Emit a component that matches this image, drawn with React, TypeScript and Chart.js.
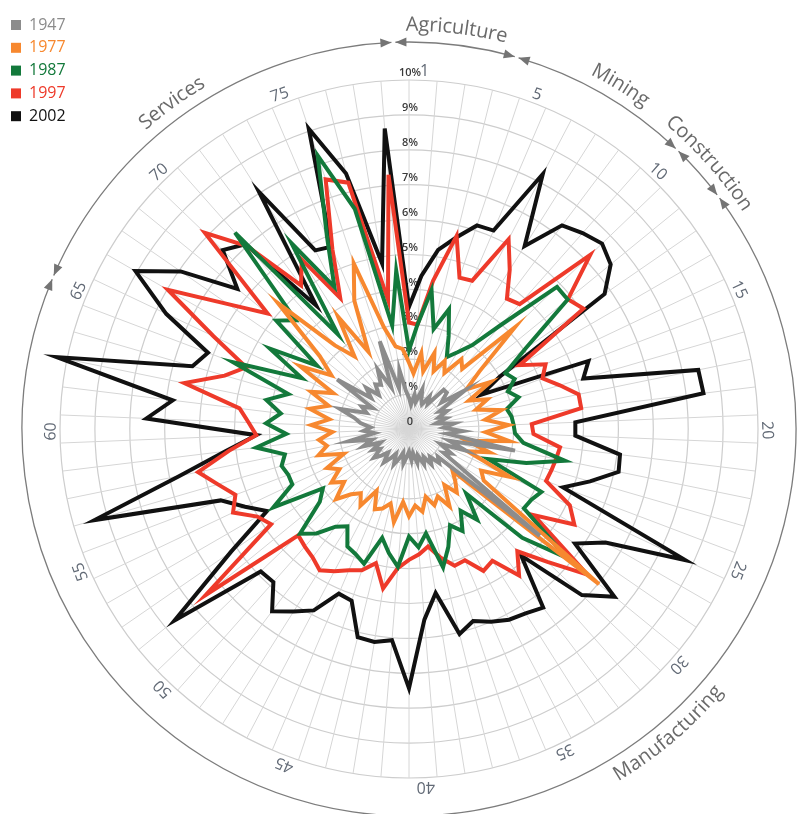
import React, { useEffect, useRef } from 'react';
import { Chart, registerables } from 'chart.js';

Chart.register(...registerables);

// ---------- data ----------
const categories = [
  '1','2','3','4','5','6','7','8','9','10','11','12','13','14','15','16','17','18','19','20',
  '21','22','23','24','25','26','27','28','29','30','31','32','33','34','35','36','37','38','39','40',
  '41','42','43','44','45','46','47','48','49','50','51','52','53','54','55','56','57','58','59','60',
  '61','62','63','64','65','66','67','68','69','70','71','72','73','74','75','76','77','78',
];
const shownCategoryLabels = ['1','5','10','15','20','25','30','35','40','45','50','55','60','65','70','75'];
const tickLabels = ['0','1%','2%','3%','4%','5%','6%','7%','8%','9%','10%'];

const seriesNames = ['1947', '1977', '1987', '1997', '2002'];
const seriesColors = ['#8c8c8c', '#f7882f', '#13793b', '#ee3a2a', '#111111'];

const v1947 = [
  0.9,0.7,1.0,0.8,1.2,0.9,0.8,1.1,0.9,1.5,1.5,1.2,1.96,1.0,1.2,0.9,1.1,0.8,1.3,1.0,
  1.54,1.1,3.1,1.2,1.74,1.0,1.4,1.2,4.84,1.15,1.3,1.0,1.2,0.9,1.1,0.8,1.0,0.7,0.9,0.65,
  0.8,1.0,0.7,0.9,1.1,0.8,1.0,1.2,0.9,1.1,1.3,1.0,1.2,0.9,1.4,1.1,1.75,1.0,1.3,1.1,
  1.4,1.6,2.06,1.3,1.5,1.2,2.5,1.4,1.7,1.3,1.6,1.5,1.93,1.3,2.65,1.2,1.72,1.1,
];
const v1977 = [
  1.9,1.6,2.2,1.7,2.3,1.8,2.2,1.9,2.5,2.3,4.2,2.6,2.0,2.7,1.9,2.4,2.0,2.7,2.2,2.85,
  2.2,2.9,1.7,2.4,1.8,3.2,2.39,2.6,7.03,1.73,2.0,2.28,1.9,2.5,2.1,2.3,2.0,2.4,2.2,2.5,
  2.1,2.7,2.2,2.4,2.5,2.0,2.6,2.3,2.5,2.9,2.4,2.7,2.3,2.6,2.0,2.7,2.4,2.6,2.2,2.8,
  2.3,2.9,2.4,3.0,2.4,3.6,2.7,3.3,5.2,3.2,2.6,3.8,2.5,4.0,5.0,3.0,2.4,2.3,
];
const v1987 = [
  2.26,3.0,4.03,2.95,3.62,2.9,2.33,2.6,3.0,4.0,5.88,5.87,4.05,3.19,3.35,3.03,3.27,2.86,2.96,3.0,
  3.04,3.3,4.56,3.5,2.43,4.2,4.05,4.0,5.84,4.5,2.48,3.25,2.77,3.3,3.0,3.56,4.08,3.03,3.4,3.08,
  3.96,3.6,3.21,4.07,3.9,3.8,3.3,3.5,4.0,4.33,3.3,3.0,4.49,3.7,3.7,3.8,3.63,4.41,3.52,4.1,
  3.7,4.17,3.6,5.39,3.4,4.6,3.2,4.91,4.5,7.52,3.39,6.3,4.6,6.0,8.26,6.5,3.0,4.55,
];
const v1997 = [
  3.05,3.0,4.3,5.7,4.57,4.62,6.14,5.4,4.67,4.78,7.2,5.88,6.07,3.66,4.33,4.09,4.5,4.96,4.97,3.52,
  3.57,4.36,4.3,4.25,4.2,5.1,5.47,4.34,6.6,5.5,4.68,5.25,4.47,4.59,4.09,4.13,3.8,3.41,3.6,3.75,
  4.0,4.63,3.96,4.27,4.4,4.6,4.79,4.6,4.5,4.4,7.52,4.8,5.02,5.58,5.32,5.7,6.17,5.2,4.38,4.6,
  4.89,6.57,5.5,4.99,6.2,7.98,6.3,5.23,8.11,7.0,5.15,5.75,4.24,5.6,7.54,7.27,3.75,7.31,
];
const v2002 = [
  3.5,4.4,5.2,5.65,6.15,6.18,8.25,6.2,7.3,7.5,7.67,7.46,6.81,3.0,2.3,5.5,5.2,8.46,8.5,4.77,
  4.77,6.09,6.13,5.4,4.72,8.76,6.5,5.78,7.6,6.87,4.85,6.4,6.25,6.17,6.0,5.8,6.05,4.76,5.48,7.43,
  6.07,6.18,6.14,5.19,5.13,5.87,6.19,6.53,5.86,5.89,8.67,6.2,4.7,5.2,5.77,9.38,6.7,5.3,4.38,7.53,
  6.82,10.3,6.46,6.16,7.7,9.05,7.95,6.35,7.4,7.07,4.43,8.04,5.78,5.68,9.07,7.54,4.81,8.64,
];
const seriesValues = [v1947, v1977, v1987, v1997, v2002];

const groupNames = ['Agriculture', 'Mining', 'Construction', 'Manufacturing', 'Services'];
const groupFirst = [1, 5, 11, 13, 65];
const groupLast = [4, 10, 12, 64, 78];
const groupLabelAngles = [6.8, 31.6, 48.5, 139.6, 324];

// ---------- styling constants ----------
const W = 798;
const H = 814;
const ARC_R = 387;
const GROUP_R = 404;
const CAT_R = 358;
const FONT = "'Open Sans', 'DejaVu Sans', sans-serif";

function pol(cx: number, cy: number, r: number, a: number) {
  return { x: cx + r * Math.sin(a), y: cy - r * Math.cos(a) };
}

function drawArrow(ctx: CanvasRenderingContext2D, cx: number, cy: number, R: number, tip: number, dir: number) {
  const L = 11;
  const hw = 4.5;
  const base = tip - (dir * L) / R;
  const p = pol(cx, cy, R, tip);
  const b1 = pol(cx, cy, R - hw, base);
  const b2 = pol(cx, cy, R + hw, base);
  ctx.beginPath();
  ctx.moveTo(p.x, p.y);
  ctx.lineTo(b1.x, b1.y);
  ctx.lineTo(b2.x, b2.y);
  ctx.closePath();
  ctx.fill();
}

function drawArcText(ctx: CanvasRenderingContext2D, text: string, cx: number, cy: number, r: number, center: number, top: boolean) {
  const chars = Array.from(text);
  const widths = chars.map((c) => ctx.measureText(c).width);
  const total = widths.reduce((s, w) => s + w, 0);
  const sgn = top ? 1 : -1;
  let a = center - (sgn * total) / 2 / r;
  chars.forEach((c, i) => {
    const w = widths[i];
    const mid = a + (sgn * w) / 2 / r;
    const p = pol(cx, cy, r, mid);
    ctx.save();
    ctx.translate(p.x, p.y);
    ctx.rotate(top ? mid : mid + Math.PI);
    ctx.fillText(c, 0, 0);
    ctx.restore();
    a += (sgn * w) / r;
  });
}

const decorPlugin = {
  id: 'decor',
  beforeDatasetsDraw(chart: any) {
    const sc = chart.scales.r;
    const ctx = chart.ctx as CanvasRenderingContext2D;
    const cx = sc.xCenter;
    const cy = sc.yCenter;
    ctx.save();
    ctx.font = `600 11px ${FONT}`;
    ctx.fillStyle = '#3a3a3a';
    ctx.textAlign = 'center';
    ctx.textBaseline = 'middle';
    tickLabels.forEach((t, i) => {
      const r = sc.getDistanceFromCenterForValue(i);
      ctx.fillText(t, cx + 1, cy - r - 7);
    });
    ctx.restore();
  },
  afterDraw(chart: any) {
    const sc = chart.scales.r;
    const ctx = chart.ctx as CanvasRenderingContext2D;
    const cx = sc.xCenter;
    const cy = sc.yCenter;
    const n = categories.length;
    const step = (2 * Math.PI) / n;
    const deg = Math.PI / 180;

    // category number labels
    ctx.save();
    ctx.font = `16px ${FONT}`;
    ctx.fillStyle = '#626a76';
    ctx.textAlign = 'center';
    ctx.textBaseline = 'middle';
    shownCategoryLabels.forEach((lab) => {
      const k = categories.indexOf(lab);
      const a = k * step;
      const off = k <= 24 ? 2.5 * deg : -2.7 * deg;
      const p = pol(cx, cy, CAT_R, a + off);
      ctx.save();
      ctx.translate(p.x, p.y);
      ctx.rotate(a);
      ctx.fillText(lab, 0, 0);
      ctx.restore();
    });
    ctx.restore();

    // group arcs with arrowheads
    ctx.save();
    ctx.strokeStyle = '#7c7c7c';
    ctx.fillStyle = '#747474';
    ctx.lineWidth = 1.3;
    const gap = 2 / ARC_R;
    groupNames.forEach((_, g) => {
      const start = (groupFirst[g] - 1.5) * step + gap;
      const end = (groupLast[g] - 0.5) * step - gap;
      ctx.beginPath();
      ctx.arc(cx, cy, ARC_R, start - Math.PI / 2, end - Math.PI / 2);
      ctx.stroke();
      drawArrow(ctx, cx, cy, ARC_R, start, -1);
      drawArrow(ctx, cx, cy, ARC_R, end, 1);
    });
    ctx.restore();

    // group labels
    ctx.save();
    ctx.font = `20px ${FONT}`;
    ctx.fillStyle = '#6a6a6a';
    ctx.textAlign = 'center';
    ctx.textBaseline = 'middle';
    groupNames.forEach((name, g) => {
      const a = groupLabelAngles[g] * deg;
      const top = !(groupLabelAngles[g] > 95 && groupLabelAngles[g] < 265);
      drawArcText(ctx, name, cx, cy, GROUP_R, a, top);
    });
    ctx.restore();

    // legend
    ctx.save();
    ctx.font = `16px ${FONT}`;
    ctx.textAlign = 'left';
    ctx.textBaseline = 'middle';
    seriesNames.forEach((name, i) => {
      const y = 25 + i * 22.8;
      ctx.fillStyle = seriesColors[i];
      ctx.fillRect(11, y - 5, 10, 10);
      ctx.fillText(name, 29, y);
    });
    ctx.restore();
  },
};

export default function App() {
  const ref = useRef<HTMLCanvasElement | null>(null);
  useEffect(() => {
    const canvas = ref.current;
    if (!canvas) return;
    const chart = new Chart(canvas, {
      type: 'radar',
      data: {
        labels: categories,
        datasets: seriesNames.map((name, i) => ({
          label: name,
          data: seriesValues[i],
          borderColor: seriesColors[i],
          backgroundColor: seriesColors[i],
          borderWidth: 4,
          fill: false,
          pointRadius: 0,
          pointHoverRadius: 0,
          tension: 0,
          clip: false as any,
        })),
      },
      options: {
        responsive: false,
        maintainAspectRatio: false,
        animation: false,
        devicePixelRatio: 1,
        layout: { padding: { left: 60, right: 40, top: 80, bottom: 36 } },
        plugins: { legend: { display: false }, tooltip: { enabled: false } },
        scales: {
          r: {
            min: 0,
            max: 10,
            startAngle: 0,
            ticks: { display: false, stepSize: 1 },
            pointLabels: { display: false },
            grid: { circular: true, color: '#cdcdcd', lineWidth: 1.2 },
            angleLines: { color: '#d6d6d6', lineWidth: 1 },
          },
        },
      } as any,
      plugins: [decorPlugin],
    });
    return () => chart.destroy();
  }, []);
  return (
    <div style={{ position: 'absolute', left: 0, top: 0, width: W, height: H, background: '#fff' }}>
      <canvas ref={ref} width={W} height={H} style={{ width: W, height: H, display: 'block' }} />
    </div>
  );
}
